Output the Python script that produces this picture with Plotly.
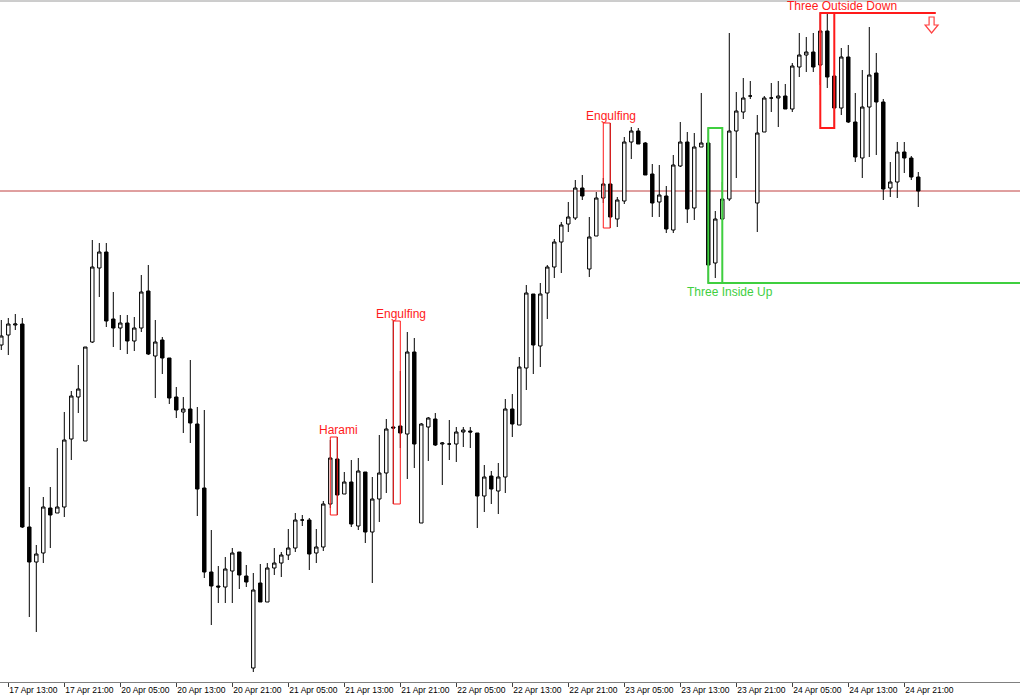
import pandas as pd
import plotly.graph_objects as go

# ---------------- data (hourly EURUSD-like bars) ----------------
opens = [1.0655, 1.0665, 1.0675, 1.0676, 1.0473, 1.0438, 1.0447, 1.0492, 1.0487, 1.0493,
         1.0561, 1.0603, 1.0559, 1.0658, 1.0732, 1.0748, 1.0681, 1.0672, 1.0677, 1.0659,
         1.0672, 1.0709, 1.0644, 1.0660, 1.0642, 1.0603, 1.0588, 1.0591, 1.0576, 1.0512,
         1.0428, 1.0414, 1.0413, 1.0429, 1.0448, 1.0424, 1.0332, 1.0417, 1.0398, 1.0432,
         1.0437, 1.0445, 1.0452, 1.0480, 1.0480, 1.0447, 1.0453, 1.0496, 1.0541, 1.0506,
         1.0518, 1.0474, 1.0528, 1.0468, 1.0501, 1.0527, 1.0573, 1.0574, 1.0566, 1.0648,
         1.0477, 1.0573, 1.0581, 1.0556, 1.0556, 1.0556, 1.0568, 1.0569, 1.0567, 1.0504,
         1.0524, 1.0509, 1.0523, 1.0591, 1.0575, 1.0632, 1.0706, 1.0654, 1.0707, 1.0733,
         1.0758, 1.0776, 1.0782, 1.0812, 1.0731, 1.0764, 1.0802, 1.0816, 1.0781, 1.0799,
         1.0858, 1.0869, 1.0857, 1.0826, 1.0798, 1.0804, 1.0770, 1.0834, 1.0858, 1.0792,
         1.0853, 1.0857, 1.0737, 1.0781, 1.0801, 1.0869, 1.0888, 1.0904, 1.0797, 1.0868,
         1.0902, 1.0902, 1.0904, 1.0891, 1.0933, 1.0945, 1.0948, 1.0935, 1.0969, 1.0924,
         1.0892, 1.0943, 1.0878, 1.0842, 1.0893, 1.0927, 1.0898, 1.0812, 1.0818, 1.0848,
         1.0842, 1.0823]

highs = [1.0680, 1.0682, 1.0686, 1.0682, 1.0513, 1.0455, 1.0503, 1.0513, 1.0552, 1.0588,
         1.0609, 1.0635, 1.0653, 1.0760, 1.0757, 1.0757, 1.0708, 1.0685, 1.0685, 1.0683,
         1.0725, 1.0735, 1.0680, 1.0663, 1.0642, 1.0613, 1.0603, 1.0640, 1.0593, 1.0590,
         1.0470, 1.0434, 1.0443, 1.0452, 1.0448, 1.0435, 1.0427, 1.0436, 1.0437, 1.0452,
         1.0448, 1.0471, 1.0487, 1.0485, 1.0482, 1.0471, 1.0499, 1.0560, 1.0563, 1.0528,
         1.0540, 1.0542, 1.0528, 1.0523, 1.0565, 1.0581, 1.0679, 1.0629, 1.0668, 1.0662,
         1.0577, 1.0583, 1.0587, 1.0558, 1.0580, 1.0573, 1.0573, 1.0573, 1.0567, 1.0535,
         1.0529, 1.0537, 1.0601, 1.0606, 1.0643, 1.0715, 1.0706, 1.0717, 1.0735, 1.0761,
         1.0778, 1.0798, 1.0820, 1.0825, 1.0783, 1.0808, 1.0822, 1.0877, 1.0803, 1.0863,
         1.0873, 1.0872, 1.0858, 1.0836, 1.0835, 1.0814, 1.0845, 1.0878, 1.0868, 1.0867,
         1.0907, 1.0872, 1.0789, 1.0818, 1.0967, 1.0908, 1.0922, 1.0919, 1.0885, 1.0904,
         1.0917, 1.0919, 1.0916, 1.0937, 1.0967, 1.0963, 1.0967, 1.0987, 1.0987, 1.0930,
         1.0952, 1.0955, 1.0907, 1.0930, 1.0973, 1.0947, 1.0901, 1.0838, 1.0858, 1.0858,
         1.0844, 1.0828]

lows = [1.0650, 1.0645, 1.0670, 1.0472, 1.0383, 1.0368, 1.0437, 1.0452, 1.0487, 1.0483,
        1.0540, 1.0587, 1.0559, 1.0657, 1.0703, 1.0673, 1.0653, 1.0650, 1.0646, 1.0649,
        1.0668, 1.0645, 1.0602, 1.0626, 1.0596, 1.0582, 1.0567, 1.0557, 1.0484, 1.0422,
        1.0375, 1.0397, 1.0397, 1.0397, 1.0411, 1.0413, 1.0328, 1.0398, 1.0398, 1.0425,
        1.0423, 1.0440, 1.0448, 1.0474, 1.0430, 1.0437, 1.0449, 1.0492, 1.0485, 1.0506,
        1.0473, 1.0470, 1.0457, 1.0417, 1.0478, 1.0507, 1.0496, 1.0552, 1.0521, 1.0532,
        1.0477, 1.0539, 1.0554, 1.0515, 1.0540, 1.0538, 1.0553, 1.0552, 1.0472, 1.0488,
        1.0496, 1.0486, 1.0507, 1.0563, 1.0575, 1.0610, 1.0626, 1.0633, 1.0681, 1.0722,
        1.0727, 1.0768, 1.0780, 1.0800, 1.0723, 1.0764, 1.0797, 1.0772, 1.0773, 1.0796,
        1.0841, 1.0856, 1.0825, 1.0783, 1.0783, 1.0767, 1.0767, 1.0833, 1.0777, 1.0780,
        1.0853, 1.0717, 1.0722, 1.0780, 1.0799, 1.0822, 1.0881, 1.0901, 1.0768, 1.0868,
        1.0888, 1.0873, 1.0891, 1.0888, 1.0923, 1.0928, 1.0928, 1.0915, 1.0912, 1.0872,
        1.0885, 1.0877, 1.0838, 1.0822, 1.0843, 1.0845, 1.0800, 1.0803, 1.0802, 1.0827,
        1.0820, 1.0793]

closes = [1.0664, 1.0676, 1.0676, 1.0473, 1.0438, 1.0446, 1.0493, 1.0485, 1.0493, 1.0560,
          1.0604, 1.0611, 1.0653, 1.0733, 1.0748, 1.0679, 1.0672, 1.0677, 1.0659, 1.0672,
          1.0708, 1.0646, 1.0658, 1.0642, 1.0602, 1.0590, 1.0591, 1.0577, 1.0511, 1.0428,
          1.0414, 1.0413, 1.0431, 1.0447, 1.0425, 1.0418, 1.0410, 1.0398, 1.0432, 1.0437,
          1.0445, 1.0452, 1.0480, 1.0480, 1.0446, 1.0453, 1.0496, 1.0542, 1.0505, 1.0518,
          1.0476, 1.0529, 1.0468, 1.0501, 1.0527, 1.0571, 1.0572, 1.0567, 1.0648, 1.0556,
          1.0576, 1.0582, 1.0555, 1.0557, 1.0556, 1.0568, 1.0570, 1.0568, 1.0504, 1.0523,
          1.0511, 1.0523, 1.0591, 1.0576, 1.0633, 1.0707, 1.0655, 1.0706, 1.0733, 1.0758,
          1.0775, 1.0783, 1.0812, 1.0804, 1.0763, 1.0802, 1.0816, 1.0783, 1.0800, 1.0858,
          1.0869, 1.0856, 1.0825, 1.0797, 1.0805, 1.0771, 1.0835, 1.0858, 1.0791, 1.0853,
          1.0857, 1.0735, 1.0781, 1.0801, 1.0869, 1.0889, 1.0902, 1.0904, 1.0867, 1.0902,
          1.0902, 1.0904, 1.0891, 1.0934, 1.0945, 1.0948, 1.0933, 1.0969, 1.0923, 1.0892,
          1.0943, 1.0878, 1.0843, 1.0893, 1.0925, 1.0898, 1.0811, 1.0818, 1.0848, 1.0842,
          1.0823, 1.0809]

tick_labels = ["17 Apr 13:00", "17 Apr 21:00", "20 Apr 05:00", "20 Apr 13:00", "20 Apr 21:00",
               "21 Apr 05:00", "21 Apr 13:00", "21 Apr 21:00", "22 Apr 05:00", "22 Apr 13:00",
               "22 Apr 21:00", "23 Apr 05:00", "23 Apr 13:00", "23 Apr 21:00", "24 Apr 05:00",
               "24 Apr 13:00", "24 Apr 21:00"]

# candlestick patterns: (name, first bar, last bar, direction)
patterns = [("Harami", 47, 48, "bear"),
            ("Engulfing", 56, 57, "bear"),
            ("Engulfing", 86, 87, "bear"),
            ("Three Inside Up", 101, 103, "bull"),
            ("Three Outside Down", 117, 119, "bear")]

# ---------------- bar times (trading hours, weekend removed) ----------------
times = list(pd.date_range("2015-04-17 12:00", "2015-04-17 23:00", freq="h")) + \
        list(pd.date_range("2015-04-20 00:00", periods=len(opens) - 12, freq="h"))
time_labels = [t.strftime("%d Apr %H:%M") for t in times]
x = list(range(len(opens)))
tickvals = [time_labels.index(lbl) for lbl in tick_labels]

fig = go.Figure()
fig.add_trace(go.Candlestick(
    x=x, open=opens, high=highs, low=lows, close=closes,
    increasing=dict(line=dict(color="black", width=1), fillcolor="white"),
    decreasing=dict(line=dict(color="black", width=1), fillcolor="black"),
    whiskerwidth=0, showlegend=False, hoverinfo="skip"))

RED = "#ff1a1a"
GREEN = "#3fcf3f"
n = len(opens)
x_lo, x_hi = -0.186, 145.53

shapes = []
annotations = []
for name, s, e, d in patterns:
    top = max(highs[s:e + 1])
    bot = min(lows[s:e + 1])
    color = RED if d == "bear" else GREEN
    three = (e - s) == 2
    lw = 2 if three else 1
    shapes.append(dict(type="rect", x0=s, x1=e, y0=bot, y1=top,
                       line=dict(color=color, width=lw), layer="above"))
    lx = e + (1.1 if three else 0.1)
    if d == "bear":
        annotations.append(dict(x=lx, y=top, text=name, showarrow=False,
                                yanchor="middle", yshift=7,
                                font=dict(family="Liberation Sans", size=12, color=color)))
    else:
        annotations.append(dict(x=lx, y=bot, text=name, showarrow=False,
                                yanchor="middle", yshift=-9,
                                font=dict(family="Liberation Sans", size=12, color=color)))
    if name == "Three Inside Up":
        shapes.append(dict(type="line", x0=e, x1=x_hi + 5, y0=bot, y1=bot,
                           line=dict(color=color, width=2), layer="above"))
    if name == "Three Outside Down":
        end_x = n + 1.5
        shapes.append(dict(type="line", x0=e, x1=end_x, y0=top, y1=top,
                           line=dict(color=color, width=2), layer="above"))
        # hollow down arrow signal
        shapes.append(dict(type="path", xsizemode="pixel", ysizemode="pixel",
                           xanchor=n + 0.9, yanchor=top,
                           path="M -2.5,-4 L 2.5,-4 L 2.5,-12 L 6.5,-12 L 0,-20 L -6.5,-12 L -2.5,-12 Z",
                           line=dict(color="#ff4040", width=1.2), fillcolor="rgba(0,0,0,0)",
                           layer="above"))

# bid line at last close
shapes.append(dict(type="line", xref="paper", x0=0, x1=1, y0=closes[-1], y1=closes[-1],
                   line=dict(color="#c04040", width=1), layer="below"))
# top frame line
shapes.append(dict(type="line", xref="paper", yref="paper", x0=0, x1=1, y0=1, y1=1,
                   line=dict(color="#9a9a9a", width=1)))

fig.update_layout(
    width=1020, height=700,
    margin=dict(l=0, r=0, t=1, b=18, autoexpand=False),
    paper_bgcolor="white", plot_bgcolor="white",
    shapes=shapes, annotations=annotations,
    showlegend=False,
    xaxis=dict(range=[x_lo, x_hi], rangeslider=dict(visible=False),
               showgrid=False, zeroline=False, automargin=False,
               showline=True, linecolor="#808080", linewidth=1,
               ticks="outside", ticklen=4, tickcolor="#404040",
               tickvals=tickvals, ticktext=tick_labels, tickangle=0,
               ticklabelposition="outside right",
               tickfont=dict(family="Liberation Sans", size=8.5, color="black")),
    yaxis=dict(range=[1.0318, 1.0999], showgrid=False, zeroline=False, automargin=False,
               showticklabels=False, showline=False, ticks=""),
)

fig.write_html("out.html", config={"displayModeBar": False, "staticPlot": True},
               post_script="document.body.style.margin='0';")
